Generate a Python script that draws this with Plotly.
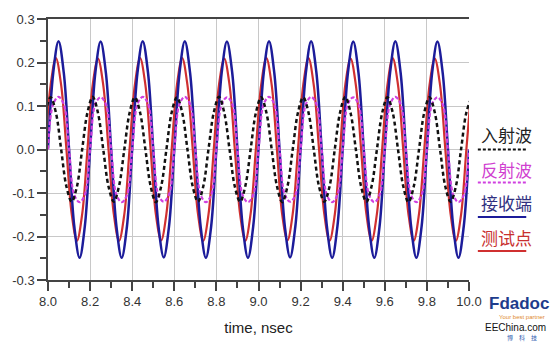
import plotly.graph_objects as go

# Sample times (ns)
t_a = [8.0, 8.025, 8.05, 8.075, 8.1, 8.125, 8.15, 8.175,
       8.2, 8.225, 8.25, 8.275, 8.3, 8.325, 8.35, 8.375,
       8.4, 8.425, 8.45, 8.475, 8.5, 8.525, 8.55, 8.575,
       8.6, 8.625, 8.65, 8.675, 8.7, 8.725, 8.75, 8.775,
       8.8, 8.825, 8.85, 8.875, 8.9, 8.925, 8.95, 8.975,
       9.0, 9.025, 9.05, 9.075, 9.1, 9.125, 9.15, 9.175,
       9.2, 9.225, 9.25, 9.275, 9.3, 9.325, 9.35, 9.375,
       9.4, 9.425, 9.45, 9.475, 9.5, 9.525, 9.55, 9.575,
       9.6, 9.625, 9.65, 9.675, 9.7, 9.725, 9.75, 9.775,
       9.8, 9.825, 9.85, 9.875, 9.9, 9.925, 9.95, 9.975,
       10.0]
t_b = [7.9875, 8.0125, 8.0375, 8.0625, 8.0875, 8.1125, 8.1375, 8.1625,
       8.1875, 8.2125, 8.2375, 8.2625, 8.2875, 8.3125, 8.3375, 8.3625,
       8.3875, 8.4125, 8.4375, 8.4625, 8.4875, 8.5125, 8.5375, 8.5625,
       8.5875, 8.6125, 8.6375, 8.6625, 8.6875, 8.7125, 8.7375, 8.7625,
       8.7875, 8.8125, 8.8375, 8.8625, 8.8875, 8.9125, 8.9375, 8.9625,
       8.9875, 9.0125, 9.0375, 9.0625, 9.0875, 9.1125, 9.1375, 9.1625,
       9.1875, 9.2125, 9.2375, 9.2625, 9.2875, 9.3125, 9.3375, 9.3625,
       9.3875, 9.4125, 9.4375, 9.4625, 9.4875, 9.5125, 9.5375, 9.5625,
       9.5875, 9.6125, 9.6375, 9.6625, 9.6875, 9.7125, 9.7375, 9.7625,
       9.7875, 9.8125, 9.8375, 9.8625, 9.8875, 9.9125, 9.9375, 9.9625,
       9.9875, 10.0125]

# 接收端 (blue), on t_a
v_recv = [0.002, 0.177, 0.249, 0.176, 0.001, -0.177, -0.249, -0.176,
          0.001, 0.177, 0.248, 0.176, 0.000, -0.176, -0.249, -0.177,
          0.001, 0.176, 0.249, 0.177, 0.000, -0.177, -0.248, -0.176,
          0.000, 0.177, 0.249, 0.176, 0.001, -0.176, -0.249, -0.177,
          0.000, 0.176, 0.248, 0.177, 0.000, -0.177, -0.249, -0.176,
          0.001, 0.177, 0.249, 0.176, 0.000, -0.176, -0.248, -0.177,
          0.000, 0.176, 0.249, 0.177, 0.001, -0.177, -0.249, -0.176,
          0.000, 0.177, 0.248, 0.176, 0.000, -0.176, -0.249, -0.177,
          0.001, 0.176, 0.249, 0.177, 0.000, -0.177, -0.249, -0.176,
          0.000, 0.177, 0.248, 0.176, 0.001, -0.176, -0.249, -0.177,
          0.000]
# 反射波 (magenta), on t_a
v_refl = [0.000, 0.105, 0.121, 0.104, 0.000, -0.105, -0.121, -0.104,
          0.001, 0.105, 0.120, 0.104, 0.000, -0.104, -0.121, -0.105,
          0.000, 0.104, 0.121, 0.105, 0.001, -0.105, -0.120, -0.104,
          0.000, 0.105, 0.121, 0.104, 0.000, -0.104, -0.121, -0.105,
          0.001, 0.104, 0.120, 0.105, 0.000, -0.105, -0.121, -0.104,
          0.000, 0.105, 0.121, 0.104, 0.001, -0.104, -0.120, -0.105,
          0.000, 0.104, 0.121, 0.105, 0.000, -0.105, -0.121, -0.104,
          0.001, 0.105, 0.120, 0.104, 0.000, -0.104, -0.121, -0.105,
          0.000, 0.104, 0.121, 0.105, 0.001, -0.105, -0.121, -0.104,
          0.000, 0.105, 0.120, 0.104, 0.000, -0.104, -0.121, -0.105,
          0.000]
# 测试点 (red), on t_b
v_test = [0.000, 0.148, 0.210, 0.148, 0.001, -0.148, -0.210, -0.148,
          0.000, 0.149, 0.209, 0.148, 0.000, -0.148, -0.210, -0.149,
          0.001, 0.148, 0.210, 0.149, 0.000, -0.149, -0.209, -0.148,
          0.000, 0.148, 0.210, 0.148, 0.001, -0.148, -0.210, -0.149,
          0.000, 0.149, 0.209, 0.148, 0.000, -0.148, -0.210, -0.148,
          0.001, 0.148, 0.210, 0.149, 0.000, -0.149, -0.209, -0.148,
          0.000, 0.148, 0.210, 0.148, 0.001, -0.148, -0.210, -0.149,
          0.000, 0.149, 0.209, 0.148, 0.000, -0.148, -0.210, -0.148,
          0.001, 0.148, 0.210, 0.149, 0.000, -0.149, -0.210, -0.148,
          0.000, 0.148, 0.209, 0.148, 0.001, -0.148, -0.210, -0.149,
          0.000, 0.148]
# 入射波 (black dashed), on t_b
v_inc = [0.085, 0.120, 0.085, 0.000, -0.085, -0.120, -0.085, 0.001,
         0.085, 0.121, 0.084, 0.000, -0.085, -0.120, -0.084, 0.000,
         0.084, 0.120, 0.085, 0.001, -0.084, -0.121, -0.085, 0.000,
         0.085, 0.120, 0.085, 0.000, -0.085, -0.120, -0.085, 0.001,
         0.085, 0.121, 0.084, 0.000, -0.085, -0.120, -0.084, 0.000,
         0.084, 0.120, 0.085, 0.001, -0.084, -0.121, -0.085, 0.000,
         0.085, 0.120, 0.085, 0.000, -0.085, -0.120, -0.085, 0.001,
         0.085, 0.121, 0.084, 0.000, -0.085, -0.120, -0.084, 0.000,
         0.084, 0.120, 0.085, 0.001, -0.084, -0.121, -0.085, 0.000,
         0.085, 0.120, 0.085, 0.000, -0.085, -0.120, -0.085, 0.001,
         0.085, 0.120]

x_ticks = [8.0, 8.2, 8.4, 8.6, 8.8, 9.0, 9.2, 9.4, 9.6, 9.8, 10.0]
y_ticks = [-0.3, -0.2, -0.1, 0.0, 0.1, 0.2, 0.3]

legend_names = ["入射波", "反射波", "接收端", "测试点"]
legend_text_colors = ["#222222", "#d040d0", "#303080", "#c83030"]
legend_line_colors = ["#111111", "#d040e0", "#1c1c9a", "#d03030"]
legend_dashes = ["3px,2px", "3px,2px", "solid", "solid"]

C_RED = "#d03030"
C_BLUE = "#1c1c9a"
C_MAG = "#d040e0"
C_BLK = "#111111"

fig = go.Figure()
fig.add_trace(go.Scatter(x=t_b, y=v_test, mode="lines", line=dict(color=C_RED, width=2.2, shape="spline")))
fig.add_trace(go.Scatter(x=t_a, y=v_recv, mode="lines", line=dict(color=C_BLUE, width=2.5, shape="spline")))
fig.add_trace(go.Scatter(x=t_a, y=v_refl, mode="lines", line=dict(color=C_MAG, width=2.2, shape="spline", dash="4px,2px")))
fig.add_trace(go.Scatter(x=t_b, y=v_inc, mode="lines", line=dict(color=C_BLK, width=2.5, shape="spline", dash="4px,3px")))

ax_font = dict(family="Liberation Sans, Arial, sans-serif", size=13, color="#333333")

fig.update_layout(
    width=554, height=346,
    margin=dict(l=44, r=85, t=13, b=63),
    paper_bgcolor="white", plot_bgcolor="white",
    showlegend=False,
    xaxis=dict(range=[8.0, 10.0], tickvals=x_ticks, ticktext=[f"{v:.1f}" for v in x_ticks],
               showgrid=True, gridcolor="#c8c8c8", gridwidth=1,
               showline=True, linecolor="#444444", linewidth=1.5, mirror=True,
               ticks="outside", ticklen=9, tickcolor="#444444", tickwidth=1.5,
               minor=dict(ticks="outside", dtick=0.1, ticklen=6, tickcolor="#444444", tickwidth=1.5, showgrid=False),
               tickfont=ax_font, zeroline=False,
               title=dict(text="time, nsec", font=dict(family="Liberation Sans, Arial, sans-serif", size=15, color="#222222"), standoff=14)),
    yaxis=dict(range=[-0.3, 0.3], tickvals=y_ticks, ticktext=[f"{v:.1f}" for v in y_ticks],
               showgrid=True, gridcolor="#c8c8c8", gridwidth=1,
               showline=True, linecolor="#444444", linewidth=1.5, mirror=False,
               ticks="outside", ticklen=9, tickcolor="#444444", tickwidth=1.5,
               minor=dict(ticks="outside", dtick=0.05, ticklen=6, tickcolor="#444444", tickwidth=1.5, showgrid=False),
               tickfont=ax_font, zeroline=False),
)

# Custom legend on the right: text with line sample below
text_y = [0.556, 0.422, 0.296, 0.163]
line_y = [0.5, 0.374, 0.241, 0.111]
for name, tc, lc, dsh, ty, ly in zip(legend_names, legend_text_colors, legend_line_colors, legend_dashes, text_y, line_y):
    fig.add_annotation(x=1.088, y=ty, xref="paper", yref="paper", text=name, showarrow=False,
                       font=dict(family="Noto Sans CJK SC", size=17, color=tc), xanchor="center", yanchor="middle")
    fig.add_shape(type="line", xref="paper", yref="paper", x0=1.021, x1=1.136, y0=ly, y1=ly,
                  line=dict(color=lc, width=2, dash=dsh))

# Watermark logo (pixel positions converted to paper coords)
def py(p):
    return (283 - p) / 270.0

def px(p):
    return (p - 44) / 425.0

fig.add_annotation(x=px(519), y=py(307), xref="paper", yref="paper", text="<b>Fdadoc</b>", showarrow=False,
                   font=dict(family="Liberation Sans, Arial", size=17, color="#1e3c8c"),
                   xanchor="center", yanchor="middle", borderpad=0)
fig.add_annotation(x=px(522), y=py(321), xref="paper", yref="paper", text="Your best partner", showarrow=False,
                   font=dict(family="Liberation Sans, Arial", size=6, color="#e08a30"),
                   xanchor="center", yanchor="middle", borderpad=0)
fig.add_annotation(x=px(516), y=py(332), xref="paper", yref="paper", text="EEChina.com", showarrow=False,
                   font=dict(family="Liberation Sans, Arial", size=10, color="#111111"),
                   xanchor="center", yanchor="middle", borderpad=0)
fig.add_annotation(x=px(522), y=py(342), xref="paper", yref="paper", text="博　科　技", showarrow=False,
                   font=dict(family="Noto Sans CJK SC", size=6, color="#3060b0"),
                   xanchor="center", yanchor="middle", borderpad=0)

fig.write_html("out.html")
